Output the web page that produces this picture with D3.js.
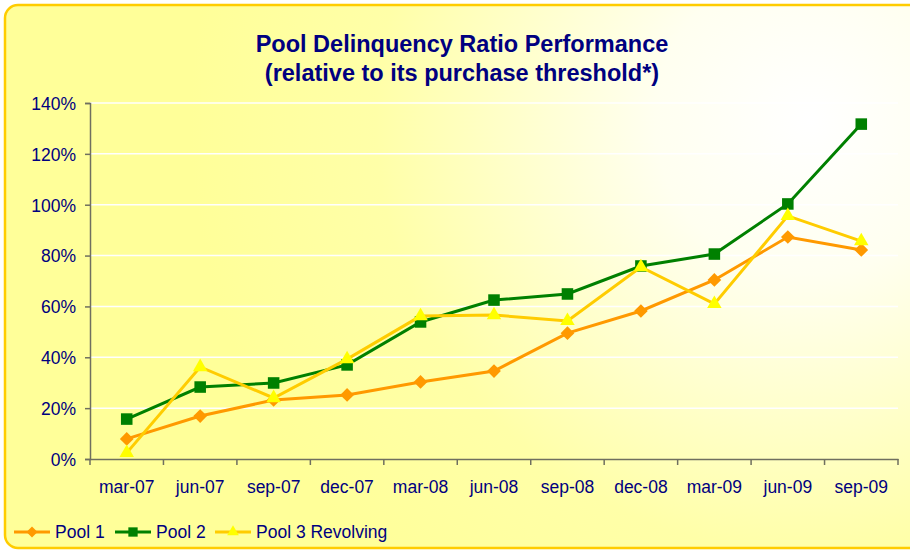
<!DOCTYPE html>
<html>
<head>
<meta charset="utf-8">
<script src="https://cdn.jsdelivr.net/npm/d3@7"></script>
<style>
  body { margin: 0; background: #fff; }
  text { font-family: Arial, "Liberation Sans", sans-serif; fill: #000080; }
</style>
</head>
<body>
<svg id="chart" width="910" height="552"></svg>
<script>
// data
var quarters = ["mar-07","jun-07","sep-07","dec-07","mar-08","jun-08","sep-08","dec-08","mar-09","jun-09","sep-09"]
var pool1 = [7.9, 16.9, 23.2, 25.2, 30.3, 34.6, 49.5, 58.2, 70.4, 87.3, 82.2]
var pool2 = [15.7, 28.3, 29.9, 37.0, 53.9, 62.5, 64.9, 75.9, 80.6, 100.3, 131.7]
var pool3 = [2.4, 36.2, 24.0, 39.3, 56.2, 56.6, 54.3, 75.5, 61.0, 95.6, 85.7]
var yTicks = [0, 20, 40, 60, 80, 100, 120, 140]
var seriesNames = ["Pool 1", "Pool 2", "Pool 3 Revolving"]

var svg = d3.select("#chart")
var W = 910, H = 552
var m = {left: 90, right: 12, top: 103, bottom: 93}

var defs = svg.append("defs")
var grad = defs.append("radialGradient")
    .attr("id", "bg")
    .attr("gradientUnits", "userSpaceOnUse")
    .attr("cx", 810).attr("cy", 120).attr("r", 620)
grad.append("stop").attr("offset", "0").attr("stop-color", "#ffffff")
grad.append("stop").attr("offset", "0.25").attr("stop-color", "#fffff0")
grad.append("stop").attr("offset", "0.7").attr("stop-color", "#ffffa8")
grad.append("stop").attr("offset", "1").attr("stop-color", "#ffff99")

svg.append("rect")
    .attr("x", 5).attr("y", 5)
    .attr("width", 940).attr("height", 543)
    .attr("rx", 13).attr("ry", 13)
    .attr("fill", "url(#bg)")
    .attr("stroke", "#ffcc00")
    .attr("stroke-width", 2.5)

var title = svg.append("text")
    .attr("text-anchor", "middle")
    .attr("font-weight", "bold")
    .attr("font-size", "23.5px")
title.append("tspan").attr("x", 462).attr("y", 52).text("Pool Delinquency Ratio Performance")
title.append("tspan").attr("x", 462).attr("y", 81).text("(relative to its purchase threshold*)")

var x = d3.scaleBand().domain(quarters).range([m.left, W - m.right])
var y = d3.scaleLinear().domain([0, 140]).range([H - m.bottom, m.top])

// gridlines
svg.append("g")
  .selectAll("line")
  .data(yTicks.slice(1))
  .join("line")
    .attr("x1", m.left).attr("x2", W - m.right)
    .attr("y1", d => y(d)).attr("y2", d => y(d))
    .attr("stroke", "#ffffff")
    .attr("stroke-width", 1.5)

var axisColor = "#6f6f5f"

var yAxis = svg.append("g")
    .attr("transform", "translate(" + m.left + ",0)")
    .call(d3.axisLeft(y).tickValues(yTicks).tickFormat(d => d + "%").tickSizeOuter(0).tickSize(5).tickPadding(9))
yAxis.select(".domain").attr("stroke", axisColor).attr("stroke-width", 1.5)
yAxis.selectAll(".tick line").attr("stroke", axisColor).attr("stroke-width", 1.5)
yAxis.selectAll("text").attr("font-size", "17.5px").attr("fill", "#000080").attr("dy", "0.36em")

var xAxis = svg.append("g")
    .attr("transform", "translate(0," + (H - m.bottom) + ")")
    .call(d3.axisBottom(x).tickSize(0).tickPadding(22).tickSizeOuter(0))
xAxis.select(".domain").attr("stroke", axisColor).attr("stroke-width", 1.5)
xAxis.selectAll("text").attr("font-size", "17.5px").attr("fill", "#000080")
// category boundary ticks
var bounds = quarters.map(q => x(q)).concat([x(quarters[quarters.length - 1]) + x.bandwidth()])
svg.append("g")
  .selectAll("line")
  .data(bounds)
  .join("line")
    .attr("x1", d => d).attr("x2", d => d)
    .attr("y1", H - m.bottom).attr("y2", H - m.bottom + 6)
    .attr("stroke", axisColor).attr("stroke-width", 1.5)

var cx = (d, i) => x(quarters[i]) + x.bandwidth() / 2
var line = d3.line().x(cx).y(d => y(d))

var styles = [
  {data: pool1, line: "#ff9900", fill: "#ff9900", symbol: d3.symbolDiamond2, size: 120},
  {data: pool2, line: "#008000", fill: "#008000", symbol: d3.symbolSquare2, size: 170},
  {data: pool3, line: "#ffcc00", fill: "#ffff00", symbol: d3.symbolTriangle2, size: 150}
]

styles.forEach(function(s) {
  svg.append("path")
      .attr("d", line(s.data))
      .attr("fill", "none")
      .attr("stroke", s.line)
      .attr("stroke-width", 3)
  svg.append("g")
    .selectAll("path")
    .data(s.data)
    .join("path")
      .attr("transform", (d, i) => "translate(" + cx(d, i) + "," + y(d) + ")")
      .attr("d", d3.symbol().type(s.symbol).size(s.size))
      .attr("fill", s.fill)
})

// legend
var legX = [14, 115, 215]
var legY = 532
styles.forEach(function(s, i) {
  var g = svg.append("g").attr("transform", "translate(" + legX[i] + "," + legY + ")")
  g.append("line").attr("x1", 0).attr("x2", 36).attr("y1", 0).attr("y2", 0)
    .attr("stroke", s.line).attr("stroke-width", 3)
  g.append("path").attr("transform", "translate(18,0)")
    .attr("d", d3.symbol().type(s.symbol).size(s.size * 0.65))
    .attr("fill", s.fill)
  g.append("text").attr("x", 41).attr("y", 0).attr("dy", "0.36em")
    .attr("font-size", "17.5px").text(seriesNames[i])
})
</script>
</body>
</html>
